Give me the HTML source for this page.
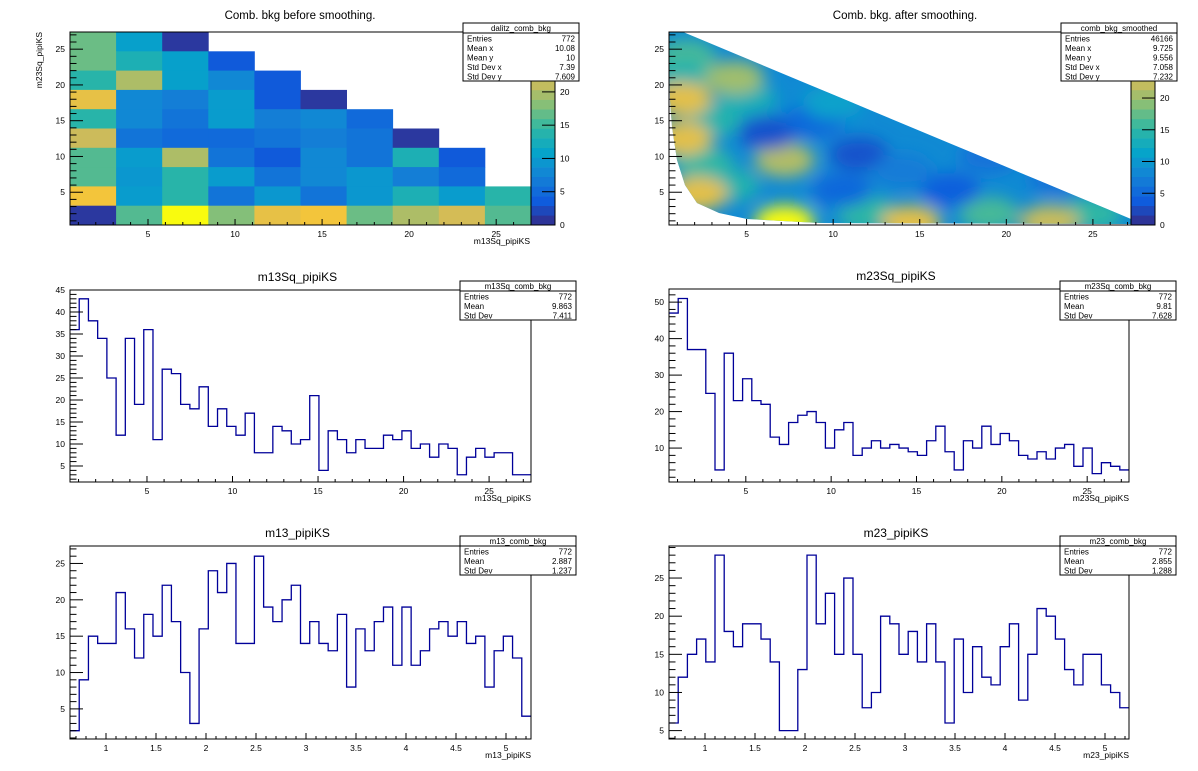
<!DOCTYPE html>
<html><head><meta charset="utf-8"><style>
body{margin:0;background:#fff;}
svg{display:block;font-family:"Liberation Sans",sans-serif;}
</style></head><body>
<svg id="c" width="1198" height="771" viewBox="0 0 1198 771" xmlns="http://www.w3.org/2000/svg">
<defs>
<clipPath id="tri"><path d="M669,32 L683,32 L1131,219 L1131,224 L819,223 L747,219 L719,213 L697,203 L685,185 L677,160 L672,127 L670,100 L669,40 Z"/></clipPath>
<filter id="blur" x="-20%" y="-20%" width="140%" height="140%"><feGaussianBlur stdDeviation="8"/></filter>
</defs>
</svg>
<script>
// ---- data ----
const dalitzRows = [ // top row first, z values
 [17,10.5,1],
 [17,13,10.5,3.5],
 [14,20,10.5,8,3.5],
 [23.5,8,7,10,3.5,1],
 [14,8,6,10,7,8,5],
 [21.5,6,5,5,6,7,6,1],
 [16,10,20,6,3.5,8,6,13,3.5],
 [16,9.5,14,10,6,8,9.5,7,5],
 [24.5,10,14,6,9.5,6,9.5,13,10,14],
 [1,16,29,18,23.5,24.5,17,20,22,16]
];
const m13SqVals=[36,43,38,34,25,12,34,19,36,11,27,26,19,18,23,14,18,14,12,17,8,8,14,13,10,11,21,4,13,11,8,11,9,9,12,11,13,9,10,7,10,9,3,7,9,7,8,8,3,3];
const m23SqVals=[47,51,37,37,25,4,36,23,29,23,22,13,11,17,19,20,17,10,15,17,8,10,12,10,11,10,9,8,12,16,9,4,12,10,16,11,14,12,8,7,9,7,10,11,5,10,3,6,5,4];
const m13Vals=[2,9,15,14,14,21,16,12,18,15,22,17,10,3,16,24,21,25,14,14,26,19,17,20,22,14,17,14,13,18,8,16,13,17,19,11,19,11,13,16,17,15,17,14,15,8,13,15,12,4];
const m23Vals=[6,12,15,17,14,28,18,16,19,19,17,14,5,5,13,28,19,23,15,25,15,8,10,20,19,15,18,14,19,14,6,17,10,16,12,11,16,19,9,15,21,20,17,13,11,15,15,11,10,8];
const sqTicks=[5,10,15,20,25];
const mTicks=[1,1.5,2,2.5,3,3.5,4,4.5,5];
const zTicks=[0,5,10,15,20];
const blobs=[ // smoothed hot/cold spots: x,y (dalitz units), z
 [1.5,24,16],[1.5,21,14],[5,18,13],[2.5,9,15],[4,6,14],[3,15,14],[12,2,15],[19,2,16],[25,2,15],
 [7.2,0.8,30],[14.5,0.8,24],[22.5,0.9,22],[1.3,18,24],[1.3,12.5,24],[2.2,4.8,24],[4.3,21,20],[7.2,9.5,21],
 [11.5,10.3,3],[6.2,13.3,3],[16.8,5.3,4],[10.5,5.3,5],[9,15,5],[19,10,6],[14,8,7],[23,7,6],[10,17.5,11]
];
// ---- helpers ----
const S=document.getElementById('c');const NS='http://www.w3.org/2000/svg';
function el(t,a,p){const e=document.createElementNS(NS,t);for(const k in a)e.setAttribute(k,a[k]);(p||S).appendChild(e);return e;}
function txt(x,y,s,size,anchor,p){const e=el('text',{x:x,y:y,'font-size':size,'text-anchor':anchor||'start',fill:'#000'},p);e.textContent=s;return e;}
const stops=[[0,53,42,135],[.125,15,92,221],[.25,20,129,214],[.375,6,164,202],[.5,46,183,164],[.625,135,191,119],[.75,209,187,89],[.875,254,200,50],[1,249,251,14]];
function pal(t){t=Math.max(0,Math.min(1,t));for(let i=1;i<stops.length;i++){if(t<=stops[i][0]){const a=stops[i-1],b=stops[i],f=(t-a[0])/(b[0]-a[0]);return 'rgb('+[1,2,3].map(j=>Math.round(a[j]+(b[j]-a[j])*f)).join(',')+')';}}return 'rgb(249,251,14)';}
function lin(d0,d1,p0,p1){return v=>p0+(v-d0)/(d1-d0)*(p1-p0);}
function axes(g,F,xs,ys,xMaj,xMin,yMaj,yMin){
  const f=el('rect',{x:F.l,y:F.t,width:F.r-F.l,height:F.b-F.t,fill:'none',stroke:'#000','stroke-width':1},g);
  
  const xa=el('g',{},g);
  const ya=el('g',{},g);
  const [x0,x1]=xs.d,[y0,y1]=ys.d;
  for(let v=Math.ceil(x0/xMin)*xMin;v<=x1;v+=xMin){const px=xs(v);const maj=xMaj.some(m=>Math.abs(m-v)<1e-6);el('line',{x1:px,x2:px,y1:F.b,y2:F.b-(maj?6:3),stroke:'#000'},xa);}
  xMaj.forEach(v=>{txt(xs(v),F.b+12,String(v),8.5,'middle',xa);});
  for(let v=Math.ceil(y0/yMin)*yMin;v<=y1;v+=yMin){const py=ys(v);const maj=yMaj.some(m=>Math.abs(m-v)<1e-6);el('line',{x1:F.l,x2:F.l+(maj?13:6.5),y1:py,y2:py,stroke:'#000'},ya);}
  yMaj.forEach(v=>{txt(F.l-5,ys(v)+3,String(v),8.5,'end',ya);});
}
function statbox(g,x,y,w,title,rows){
  const h=9.5*(rows.length+1)+1;
  const b=el('g',{},g);
  el('rect',{x:x,y:y,width:w,height:h,fill:'#fff',stroke:'#000'},b);
  el('line',{x1:x,x2:x+w,y1:y+10,y2:y+10,stroke:'#000'},b);
  txt(x+w/2,y+8,title,8,'middle',b);
  rows.forEach((r,i)=>{txt(x+4,y+18.5+i*9.5,r[0],8,'start',b);txt(x+w-4,y+18.5+i*9.5,r[1],8,'end',b);});
}
function colorbar(g,x,F,zmax){
  const cb=el('g',{},g);
  const n=20,hh=(F.b-F.t)/n;
  for(let i=0;i<n;i++){el('rect',{x:x,y:F.b-(i+1)*hh,width:24,height:hh+0.3,fill:pal((i+0.5)/n)},cb);}
  el('rect',{x:x,y:F.t,width:24,height:F.b-F.t,fill:'none',stroke:'#000'},cb);
  const zs=lin(0,zmax,F.b,F.t);
  for(let v=0;v<=zmax;v+=5){el('line',{x1:x+24,x2:x+11,y1:zs(v),y2:zs(v),stroke:'#000'},cb);}
  zTicks.forEach(v=>txt(x+29,zs(v)+3,String(v),8.5,'start',cb));
}
function hist(name,F,xd,yd,vals,xMaj,xMin,yMaj,yMin,title,xtitle,sb){
  const g=el('g',{});
  const xs=lin(xd[0],xd[1],F.l,F.r);xs.d=xd;const ys=lin(yd[0],yd[1],F.b,F.t);ys.d=yd;
  const w=(xd[1]-xd[0])/vals.length;
  let d='M'+xs(xd[0])+','+ys(vals[0]);
  vals.forEach((v,i)=>{d+=' L'+xs(xd[0]+i*w)+','+ys(v)+' L'+xs(xd[0]+(i+1)*w)+','+ys(v);});
  const p=el('path',{d:d,fill:'none',stroke:'#000099','stroke-width':1.3},g);
  
  axes(g,F,xs,ys,xMaj,xMin,yMaj,yMin);
  const t=txt((F.l+F.r)/2-3,F.t-9,title,12,'middle',g);
  const xt=txt(F.r,F.b+19,xtitle,8.5,'end',g);
  statbox(g,sb[0],sb[1],116,sb[2],sb[3]);
}
// ---- top-left dalitz ----
(function(){
  const F={l:70,r:531,t:32,b:225};
  const g=el('g',{});
  const xd=[0.52,27.0],yd=[0.42,27.4];
  const xs=lin(xd[0],xd[1],F.l,F.r);xs.d=xd;const ys=lin(yd[0],yd[1],F.b,F.t);ys.d=yd;
  const nb=10,cw=(xd[1]-xd[0])/nb,ch=(yd[1]-yd[0])/nb;
  dalitzRows.forEach((row,ri)=>{const j=nb-1-ri;row.forEach((z,i)=>{
    const r=el('rect',{x:xs(xd[0]+i*cw),y:ys(yd[0]+(j+1)*ch),width:xs(xd[0]+(i+1)*cw)-xs(xd[0]+i*cw)+0.4,height:ys(yd[0]+j*ch)-ys(yd[0]+(j+1)*ch)+0.4,fill:pal(z/29)},g);
    });});
  axes(g,F,xs,ys,sqTicks,1,sqTicks,1);
  colorbar(g,531,F,29);
  const t=txt(300,19,'Comb. bkg before smoothing.',11.5,'middle',g);
  const xt=txt(530,244,'m13Sq_pipiKS',8.5,'end',g);
  const yt=txt(0,0,'m23Sq_pipiKS',8.5,'end',g);yt.setAttribute('transform','translate(42,32) rotate(-90)');
  statbox(g,463,23,116,'dalitz_comb_bkg',[['Entries','772'],['Mean x','10.08'],['Mean y','10'],['Std Dev x','7.39'],['Std Dev y','7.609']]);
})();
// ---- top-right smoothed ----
(function(){
  const F={l:669,r:1131,t:32,b:225};
  const g=el('g',{});
  const xd=[0.52,27.2],yd=[0.42,27.4];
  const xs=lin(xd[0],xd[1],F.l,F.r);xs.d=xd;const ys=lin(yd[0],yd[1],F.b,F.t);ys.d=yd;
  const cg=el('g',{'clip-path':'url(#tri)'},g);
  el('rect',{x:F.l,y:F.t,width:F.r-F.l,height:F.b-F.t,fill:pal(8.5/30)},cg);
  const bg=el('g',{filter:'url(#blur)'},cg);
  blobs.forEach(b=>{const c=el('ellipse',{cx:xs(b[0]),cy:ys(b[1]),rx:30,ry:17,fill:pal(b[2]/30)},bg);
    });
  axes(g,F,xs,ys,sqTicks,1,sqTicks,1);
  colorbar(g,1131,F,30.4);
  const t=txt(905,19,'Comb. bkg. after smoothing.',11.5,'middle',g);
  statbox(g,1061,23,116,'comb_bkg_smoothed',[['Entries','46166'],['Mean x','9.725'],['Mean y','9.556'],['Std Dev x','7.058'],['Std Dev y','7.232']]);
})();
// ---- 1D histograms ----
hist('m13sq-histogram',{l:70,r:531,t:290,b:482},[0.5,27.45],[1.36,45],m13SqVals,sqTicks,1,[5,10,15,20,25,30,35,40,45],1,'m13Sq_pipiKS','m13Sq_pipiKS',[460,281,'m13Sq_comb_bkg',[['Entries','772'],['Mean','9.863'],['Std Dev','7.411']]]);
hist('m23sq-histogram',{l:669,r:1129,t:289,b:482},[0.5,27.45],[0.7,53.6],m23SqVals,sqTicks,1,[10,20,30,40,50],2,'m23Sq_pipiKS','m23Sq_pipiKS',[1060,281,'m23Sq_comb_bkg',[['Entries','772'],['Mean','9.81'],['Std Dev','7.628']]]);
hist('m13-histogram',{l:70,r:531,t:546,b:739},[0.64,5.25],[0.86,27.4],m13Vals,mTicks,0.1,[5,10,15,20,25],1,'m13_pipiKS','m13_pipiKS',[460,536,'m13_comb_bkg',[['Entries','772'],['Mean','2.887'],['Std Dev','1.237']]]);
hist('m23-histogram',{l:669,r:1129,t:546,b:739},[0.64,5.24],[3.9,29.2],m23Vals,mTicks,0.1,[5,10,15,20,25],1,'m23_pipiKS','m23_pipiKS',[1060,536,'m23_comb_bkg',[['Entries','772'],['Mean','2.855'],['Std Dev','1.288']]]);
</script>
</body></html>
